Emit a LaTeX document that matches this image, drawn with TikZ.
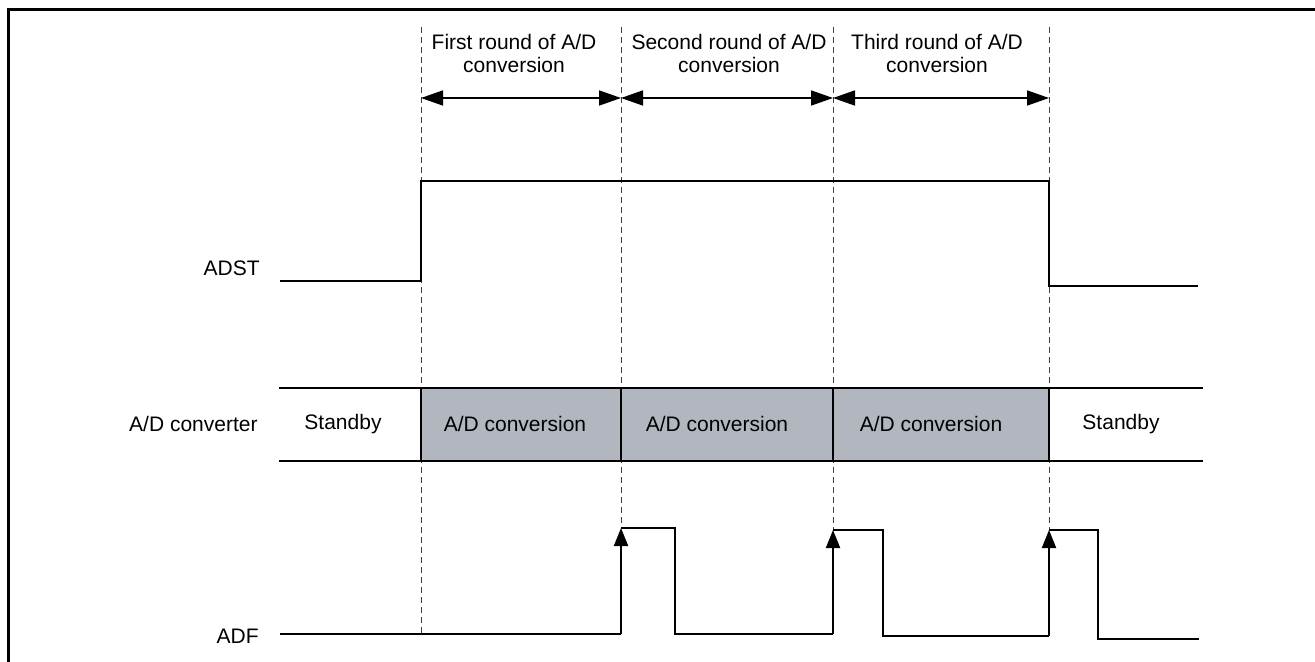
\documentclass[tikz,border=0pt]{standalone}
\usepackage{fontspec}
\setmainfont{Liberation Sans}
\usetikzlibrary{arrows.meta}
\definecolor{convgray}{RGB}{178,183,191}

\begin{document}
\begin{tikzpicture}[x=0.5pt, y=-0.5pt, font=\fontsize{10.5}{11.5}\selectfont,
		sig/.style={line width=1pt, line join=miter},
		guide/.style={dash pattern=on 3pt off 2pt, line width=0.5pt, black!75},
		roundspan/.style={line width=0.8pt, {Triangle[length=11pt, width=7.5pt]}-{Triangle[length=11pt, width=7.5pt]}},
		riseedge/.style={line width=1pt, -{Triangle[length=9pt, width=7pt]}},
		lbl/.style={inner sep=0pt}]
			\useasboundingbox (0, 0) rectangle (1315, 662);
			\draw[line width=1.5pt](8, 662)--(8, 10)--(1315, 10);

			\coordinate (g0) at (421, 27);
			\coordinate (g1) at (621, 27);
			\coordinate (g2) at (833, 27);
			\coordinate (g3) at (1049, 27);
			\coordinate (f0) at (421, 634);
			\coordinate (f1) at (621, 528);
			\coordinate (f2) at (833, 530);
			\coordinate (f3) at (1049, 530);
			\foreach \i in {0, 1, 2, 3}
				\draw[guide](g\i)--(f\i);

			\foreach \i/\x in {0/421, 1/621, 2/833, 3/1049}
				\coordinate (a\i) at (\x, 98);
			\draw[roundspan](a0)--(a1);
			\draw[roundspan](a1)--(a2);
			\draw[roundspan](a2)--(a3);

			\node[lbl, align=center] (round1) at (514, 53) {First round of A/D\\conversion};
			\node[lbl, align=center] (round2) at (729, 53) {Second round of A/D\\conversion};
			\node[lbl, align=center] (round3) at (937, 53) {Third round of A/D\\conversion};

			\node[lbl, anchor=east] (adst) at (260, 268) {ADST};
			\draw[sig](280, 281)--(421, 281)--(421, 181)--(1049, 181)--(1049, 286)--(1198, 286);

			\node[lbl, anchor=east] (conv) at (258, 424) {A/D converter};
			\fill[convgray](421, 388) rectangle (1049, 461);
			\draw[sig](279, 388)--(1203, 388);
			\draw[sig](279, 461)--(1203, 461);
			\foreach \x in {421, 621, 833, 1049}
				\draw[sig](\x, 388)--(\x, 461);
			\node[lbl] (stby1) at (343, 424) {Standby};
			\node[lbl] (conv1) at (515, 424) {A/D conversion};
			\node[lbl] (conv2) at (717, 424) {A/D conversion};
			\node[lbl] (conv3) at (931, 424) {A/D conversion};
			\node[lbl] (stby2) at (1121, 424) {Standby};

			\node[lbl, anchor=east] (adf) at (259, 636) {ADF};
			\draw[sig](280, 634)--(621, 634);
			\draw[riseedge](621, 634)--(f1);
			\draw[sig](f1)--(675, 528)--(675, 634)--(833, 634);
			\draw[riseedge](833, 634)--(f2);
			\draw[sig](f2)--(883, 530)--(883, 636)--(1049, 636);
			\draw[riseedge](1049, 636)--(f3);
			\draw[sig](f3)--(1098, 530)--(1098, 639)--(1199, 639);
		\end{tikzpicture}
\end{document}
